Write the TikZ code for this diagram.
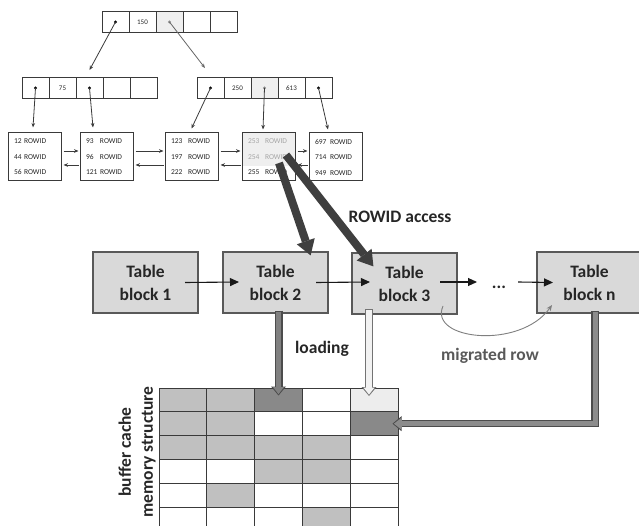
\documentclass[tikz,border=0pt]{standalone}
\usepackage{fontspec}
\setmainfont{Carlito}
\usetikzlibrary{arrows.meta,calc}
\definecolor{treeln}{HTML}{3A3A3A}
\definecolor{txt}{HTML}{262626}
\definecolor{hl}{HTML}{EFEFEF}
\definecolor{blkfill}{HTML}{D9D9D9}
\definecolor{blkdraw}{HTML}{595959}
\definecolor{rowc}{HTML}{3F3F3F}
\definecolor{cg}{HTML}{C0C0C0}
\definecolor{cd}{HTML}{898989}
\definecolor{cl}{HTML}{EDEDED}
\definecolor{gridln}{HTML}{3A3A3A}
\definecolor{migc}{HTML}{7F7F7F}
\definecolor{migtxt}{HTML}{595959}
\definecolor{fadetxt}{HTML}{A6A6A6}
\newcommand\lrow[2][14pt]{\makebox[#1][l]{#2}ROWID}
\begin{document}
\begin{tikzpicture}[x=1pt,y=-1pt,
  cell/.style={draw=treeln, line width=0.9pt, minimum width=27pt, minimum height=21pt, inner sep=0pt, font=\fontsize{7}{8}\selectfont, text=txt},
  leaf/.style={draw=treeln, line width=1pt, minimum width=53pt, minimum height=48pt, inner sep=0pt, text width=41pt, align=left, font=\fontsize{7.5}{15.5}\selectfont, text=txt},
  tblock/.style={draw=blkdraw, fill=blkfill, line width=1.2pt, minimum width=105pt, minimum height=61pt, inner sep=0pt, align=center, font=\fontsize{17.5}{23}\selectfont\bfseries, text=txt},
  gcell/.style={draw=gridln, line width=1pt, minimum width=47.8pt, minimum height=23.8pt, inner sep=0pt},
  tarr/.style={draw=treeln, line width=0.8pt, -{Stealth[length=4.5pt,width=3.6pt]}},
  blk/.style={draw=black!90, line width=1.1pt, -{Triangle[length=9pt,width=8pt]}},
  rarr/.style={draw=rowc, line width=8pt, -{Triangle[length=15pt,width=19pt,line width=0pt]}},
  barout/.style={line width=8pt, -{Triangle[length=9pt,width=15pt,line width=0pt]}},
  barin/.style={line width=5.6pt, shorten >=1.4pt, shorten <=1pt, -{Triangle[length=7pt,width=11pt,line width=0pt]}},
  mig/.style={draw=migc, line width=0.9pt, -{Stealth[length=6pt,width=5pt]}},
  lbl/.style={font=\fontsize{17.5}{22}\selectfont\bfseries, text=txt, inner sep=0pt}
]
\useasboundingbox (0,0) rectangle (639,526);

% ---------- B-tree root ----------
\node[cell] (t1) at (115.5,22) {};
\node[cell] (t2) at (142.5,22) {150};
\node[cell, fill=hl] (t3) at (169.5,22) {};
\node[cell] (t4) at (196.5,22) {};
\node[cell] (t5) at (223.5,22) {};

% ---------- branch nodes ----------
\node[cell] (l1) at (35.5,88) {};
\node[cell] (l2) at (62.5,88) {75};
\node[cell] (l3) at (89.5,88) {};
\node[cell] (l4) at (116.5,88) {};
\node[cell] (l5) at (143.5,88) {};

\node[cell] (r1) at (210.5,88) {};
\node[cell] (r2) at (237.5,88) {250};
\node[cell, fill=hl] (r3) at (264.5,88) {};
\node[cell] (r4) at (291.5,88) {613};
\node[cell] (r5) at (318.5,88) {};

% ---------- leaves ----------
\node[leaf] (lf1) at (34.5,157) {12 ROWID\\44 ROWID\\56 ROWID};
\node[leaf] (lf2) at (106.5,157) {\lrow{93}\\\lrow{96}\\\lrow{121}};
\node[leaf] (lf3) at (191.5,157) {\lrow[17pt]{123}\\\lrow[17pt]{197}\\\lrow[17pt]{222}};
\node[leaf, path picture={\fill[hl] (path picture bounding box.north west) rectangle ($(path picture bounding box.east)+(0,9)$);}]
  (lf4) at (268.5,157) {{\color{fadetxt}\lrow[17pt]{253}}\\{\color{fadetxt}\lrow[17pt]{254}}\\\lrow[17pt]{255}};
\node[leaf] (lf5) at (335.5,157) {\lrow[15pt]{697}\\\lrow[15pt]{714}\\\lrow[15pt]{949}};

% dots
\foreach \c in {t1,l1,l3,r1,r5} \fill[black] (\c.center) circle (1.7);
\foreach \c in {t3,r3} \fill[black!45] (\c.center) circle (1.6);

% tree pointers
\draw[tarr] (t1.center) -- ([yshift=7pt]l3.north);
\draw[tarr, draw=black!60] (t3.center) -- ([xshift=-5.5pt,yshift=9pt]r1.north);
\draw[tarr] (l1.center) -- ([xshift=-1.5pt,yshift=5pt]lf1.north);
\draw[tarr] (l3.center) -- ([xshift=-13.5pt,yshift=5pt]lf2.north);
\draw[tarr] (r1.center) -- ([yshift=4pt]lf3.north);
\draw[tarr] (r3.center) -- ([xshift=-5.5pt,yshift=3pt]lf4.north);
\draw[tarr] (r5.center) -- ([xshift=-7.5pt,yshift=3pt]lf5.north);

% leaf links
\foreach \a/\b in {lf1/lf2,lf2/lf3,lf3/lf4,lf4/lf5}{
  \draw[tarr, shorten <=2pt, shorten >=1pt] ([yshift=6pt]\a.east) -- ([yshift=6pt]\b.west);
  \draw[tarr, shorten <=1pt, shorten >=2pt] ([yshift=-8pt]\b.west) -- ([yshift=-8pt]\a.east);
}

% ---------- buffer cache grid ----------
\foreach \r/\fa/\fb/\fc/\fd/\fe in {1/cg/cg/cd/white/cl, 2/cg/cg/white/white/cd, 3/cg/cg/cg/cg/white, 4/white/white/cg/cg/white, 5/white/cg/white/white/white, 6/white/white/white/cg/white}{
  \foreach \c/\f in {1/\fa,2/\fb,3/\fc,4/\fd,5/\fe}{
    \node[gcell, fill=\f] (c\r\c) at ({159+(\c-0.5)*47.8},{388+(\r-0.5)*23.8}) {};
  }
}
\node[lbl, rotate=90, align=center] (bc) at (137,452) {buffer cache\\memory structure};

% ---------- table blocks ----------
\node[tblock] (tb1) at (145.5,282.5) {Table\\block 1};
\node[tblock] (tb2) at (275.5,282.5) {Table\\block 2};
\node[tblock] (tb3) at (404.5,283.5) {Table\\block 3};
\node[tblock] (tbn) at (589.5,282.5) {Table\\block n};
\node[lbl] (dots) at (499,287) {...};
\coordinate (d1) at (477,282);
\coordinate (d2) at (518,282);

\draw[blk] ([xshift=39.5pt]tb1.center) -- ([xshift=-36.5pt,yshift=0.5pt]tb2.center);
\draw[blk] ([xshift=40.5pt]tb2.center) -- ([xshift=-34.5pt,yshift=1.5pt]tb3.center);
\draw[blk] ([xshift=35.5pt,yshift=1.5pt]tb3.center) -- (d1);
\draw[blk] (d2) -- ([xshift=-36.5pt]tbn.center);

% migrated row
\coordinate (m1) at (443,306);
\coordinate (m2) at (552,305);
\draw[mig] (m1) .. controls (428,340) and (520,350) .. (m2);

% labels
\node[lbl] (ra) at (400,217) {ROWID access};
\node[lbl] (ld) at (322,349) {loading};
\node[lbl, text=migtxt] (mr) at (490,356) {migrated row};

% ROWID access arrows
\draw[rarr] ([xshift=10.5pt,yshift=-6pt]lf4.center) -- ([xshift=-18pt,yshift=-4pt]tb2.north east);
\draw[rarr] ([xshift=17.5pt,yshift=2pt]lf4.center) -- ([xshift=22pt,yshift=-14pt]tb3.north west);

% loading bars
\coordinate (b2) at ($(tb2.south -| c13.center)+(0,-3)$);
\draw[barout, draw=black!70] (b2) -- ([yshift=-8pt]c13.north);
\draw[barin, draw=black!50] (b2) -- ([yshift=-8pt]c13.north);

\coordinate (b3) at (369,309);
\coordinate (b3e) at (369,396);
\draw[barout, draw=black!55] (b3) -- (b3e);
\draw[barin, draw=black!5] (b3) -- (b3e);

\coordinate (bn) at (595,311);
\draw[barout, line width=7.4pt, draw=black!70] (bn) |- ([xshift=-6pt]c25.east);
\draw[barin, line width=5pt, draw=black!45] (bn) |- ([xshift=-6pt]c25.east);
\end{tikzpicture}
\end{document}
